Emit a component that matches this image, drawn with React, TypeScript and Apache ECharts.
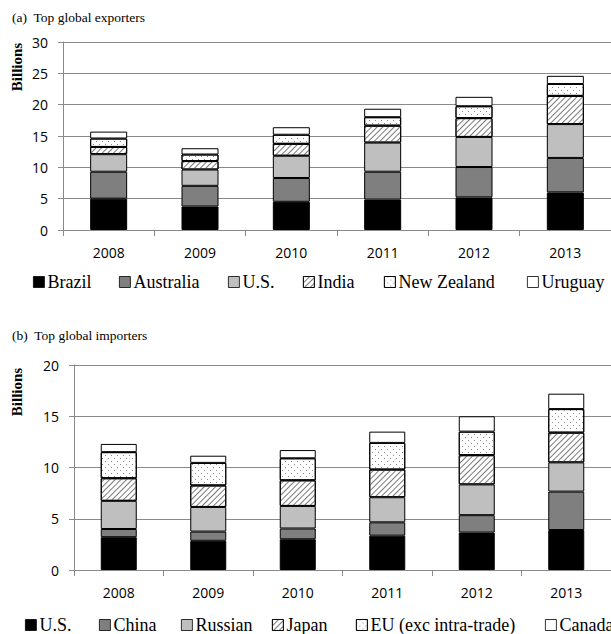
import React, { useEffect, useRef } from 'react';
import * as echarts from 'echarts';

// Categories
const years = ['2008', '2009', '2010', '2011', '2012', '2013'];

// (a) Top global exporters, billions
const exportSeriesNames = ['Brazil', 'Australia', 'U.S.', 'India', 'New Zealand', 'Uruguay'];
const exBrazil = [5.0, 3.75, 4.5, 4.85, 5.2, 6.0];
const exAustralia = [4.3, 3.3, 3.8, 4.45, 4.85, 5.5];
const exUS = [2.8, 2.6, 3.55, 4.65, 4.8, 5.4];
const exIndia = [1.15, 1.35, 1.9, 2.7, 3.0, 4.5];
const exNewZealand = [1.35, 1.05, 1.45, 1.35, 1.9, 1.9];
const exUruguay = [1.1, 1.0, 1.2, 1.35, 1.5, 1.3];

// (b) Top global importers, billions
const importSeriesNames = ['U.S.', 'China', 'Russian', 'Japan', 'EU (exc intra-trade)', 'Canada'];
const imUS = [3.2, 2.85, 3.0, 3.35, 3.65, 3.9];
const imChina = [0.8, 0.9, 1.05, 1.3, 1.7, 3.75];
const imRussian = [2.75, 2.4, 2.2, 2.45, 3.0, 2.85];
const imJapan = [2.2, 2.1, 2.5, 2.7, 2.85, 2.9];
const imEU = [2.55, 2.2, 2.15, 2.6, 2.3, 2.3];
const imCanada = [0.8, 0.7, 0.8, 1.1, 1.5, 1.5];

const SERIF = '"Liberation Serif", "Times New Roman", serif';
const SANS = '"Open Sans", "Liberation Sans", sans-serif';
const AXIS_GRAY = '#8a8a8a';

const hatch = {
  symbol: 'rect',
  symbolSize: 1,
  dashArrayX: [1, 0],
  dashArrayY: [1, 3],
  rotation: -Math.PI / 4,
  color: '#7a7a7a',
};
const dots = {
  symbol: 'rect',
  symbolSize: 1,
  dashArrayX: [[1, 5], [0, 3, 1, 2]],
  dashArrayY: [1, 2],
  color: '#8a8a8a',
};

// fill styles, bottom segment first
const fills: any[] = [
  { color: '#000000' },
  { color: '#7f7f7f' },
  { color: '#bfbfbf' },
  { color: '#ffffff', decal: hatch },
  { color: '#ffffff', decal: dots },
  { color: '#ffffff' },
];

interface PanelCfg {
  title: string;
  names: string[];
  values: number[][];
  yMax: number;
  gridLeft: number;
  gridTop: number;
  gridWidth: number;
  gridHeight: number;
  barWidth: number;
  titleY: number;
  unitY: number;
  legendLefts: number[];
  legendTop: number;
}

function buildOption(cfg: PanelCfg): any {
  const series = cfg.names.map((name, i) => ({
    name,
    type: 'bar',
    stack: 'total',
    barWidth: cfg.barWidth,
    data: cfg.values[i],
    itemStyle: {
      ...fills[i],
      borderColor: '#000',
      borderWidth: 1,
    },
    emphasis: { disabled: true },
  }));

  const legends = cfg.names.map((name, i) => ({
    data: [name],
    left: cfg.legendLefts[i],
    top: cfg.legendTop,
    padding: 0,
    itemWidth: 11,
    itemHeight: 11,
    icon: 'rect',
    selectedMode: false,
    itemStyle: { borderColor: '#000', borderWidth: 0.8 },
    textStyle: { fontFamily: SERIF, fontSize: 18, color: '#000', padding: [0, 0, 0, -2] },
  }));

  return {
    animation: false,
    backgroundColor: '#ffffff',
    grid: {
      left: cfg.gridLeft,
      top: cfg.gridTop,
      width: cfg.gridWidth,
      height: cfg.gridHeight,
      containLabel: false,
    },
    xAxis: {
      type: 'category',
      data: years,
      axisLine: { show: true, lineStyle: { color: AXIS_GRAY, width: 1 } },
      axisTick: { show: true, length: 6, lineStyle: { color: AXIS_GRAY } },
      axisLabel: { fontFamily: SANS, fontSize: 14, color: '#000', margin: 15 },
    },
    yAxis: {
      type: 'value',
      min: 0,
      max: cfg.yMax,
      interval: 5,
      axisLine: { show: true, lineStyle: { color: AXIS_GRAY, width: 1 } },
      axisTick: { show: true, length: 5, lineStyle: { color: AXIS_GRAY } },
      splitLine: { show: true, lineStyle: { color: AXIS_GRAY, width: 1 } },
      axisLabel: { fontFamily: SANS, fontSize: 14, color: '#000', margin: 15 },
    },
    legend: legends,
    graphic: [
      {
        type: 'text',
        left: 12,
        top: cfg.titleY - 8,
        style: { text: cfg.title, fontFamily: SERIF, fontSize: 13.5, fill: '#000' },
      },
      {
        type: 'text',
        x: 17,
        y: cfg.unitY,
        rotation: Math.PI / 2,
        style: {
          text: 'Billions',
          fontFamily: SERIF,
          fontSize: 15,
          fontWeight: 'bold',
          fill: '#000',
          align: 'center',
          verticalAlign: 'middle',
        },
      },
    ],
    series,
  };
}

const exportsCfg: PanelCfg = {
  title: '(a)  Top global exporters',
  names: exportSeriesNames,
  values: [exBrazil, exAustralia, exUS, exIndia, exNewZealand, exUruguay],
  yMax: 30,
  gridLeft: 63,
  gridTop: 42,
  gridWidth: 549,
  gridHeight: 188,
  barWidth: 37,
  titleY: 18,
  unitY: 67,
  legendLefts: [33, 119, 228, 303, 384, 527],
  legendTop: 273,
};

const importsCfg: PanelCfg = {
  title: '(b)  Top global importers',
  names: importSeriesNames,
  values: [imUS, imChina, imRussian, imJapan, imEU, imCanada],
  yMax: 20,
  gridLeft: 74,
  gridTop: 48,
  gridWidth: 541,
  gridHeight: 205,
  barWidth: 36,
  titleY: 19,
  unitY: 75,
  legendLefts: [25, 99, 181, 272, 356, 545],
  legendTop: 299,
};

function Panel({ cfg, top }: { cfg: PanelCfg; top: number }) {
  const ref = useRef<HTMLDivElement>(null);
  useEffect(() => {
    if (!ref.current) return;
    const chart = echarts.init(ref.current, undefined, { renderer: 'svg' });
    chart.setOption(buildOption(cfg));
    return () => chart.dispose();
  }, [cfg]);
  return (
    <div
      ref={ref}
      style={{ position: 'absolute', left: 0, top, width: 611, height: 317 }}
    />
  );
}

export default function App() {
  return (
    <div
      style={{
        position: 'fixed',
        left: 0,
        top: 0,
        width: 611,
        height: 634,
        overflow: 'hidden',
        background: '#fff',
      }}
    >
      <Panel cfg={exportsCfg} top={0} />
      <Panel cfg={importsCfg} top={317} />
    </div>
  );
}
